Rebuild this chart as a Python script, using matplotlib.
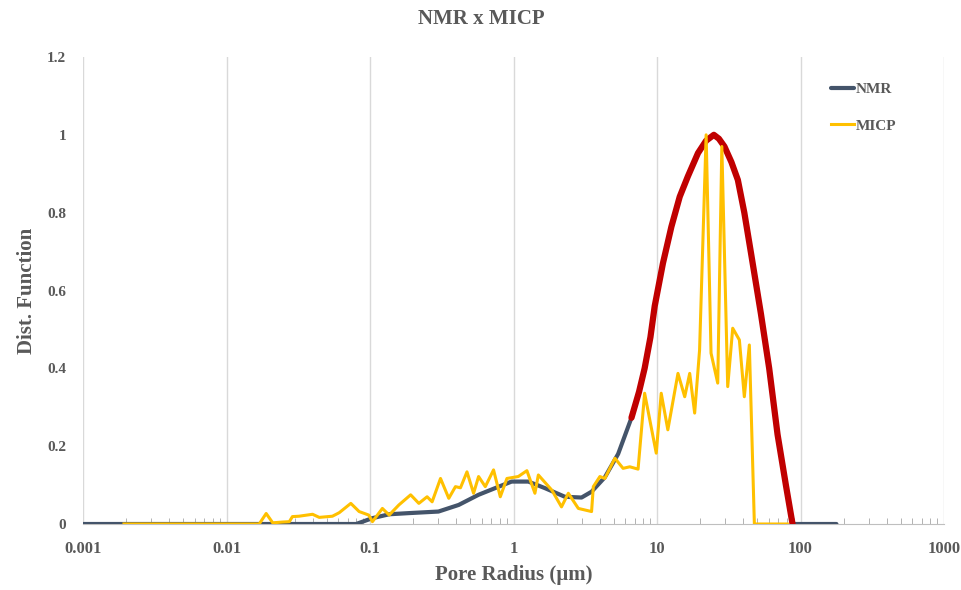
import matplotlib
matplotlib.use("Agg")
import matplotlib.pyplot as plt
from matplotlib.ticker import LogLocator, FixedLocator, NullFormatter

# NMR distribution (pore radius in um, normalised amplitude)
nmr_r = [0.001, 0.032, 0.080, 0.104, 0.136, 0.187, 0.30, 0.415, 0.57, 0.79,
         0.97, 1.27, 1.66, 2.28, 2.98, 3.5, 4.33, 5.36, 6.64, 7.5, 8.2, 9.0,
         9.64, 11.0, 12.6, 14.4, 16.4, 19.3, 22.0, 24.9, 27.0, 29.5, 33.0,
         36.6, 40.6, 45.2, 53.0, 60.5, 69.2, 79.1, 88.0, 178.0]
nmr_f = [0.0, 0.0, 0.0, 0.015, 0.025, 0.028, 0.032, 0.049, 0.075, 0.096,
         0.109, 0.109, 0.092, 0.070, 0.068, 0.083, 0.12, 0.18, 0.273, 0.34,
         0.40, 0.48, 0.56, 0.67, 0.764, 0.841, 0.893, 0.953, 0.985, 1.0,
         0.99, 0.97, 0.93, 0.884, 0.80, 0.696, 0.54, 0.40, 0.23, 0.10, 0.0,
         0.0]

# MICP distribution
micp_r = [0.00193, 0.0169, 0.0189, 0.021, 0.0245, 0.0274, 0.0288, 0.032,
          0.0398, 0.0443, 0.0547, 0.061, 0.0735, 0.084, 0.098, 0.104, 0.122,
          0.136, 0.159, 0.192, 0.219, 0.25, 0.271, 0.31, 0.354, 0.394, 0.427,
          0.474, 0.527, 0.571, 0.636, 0.726, 0.809, 0.9, 1.08, 1.24, 1.41,
          1.49, 1.85, 2.16, 2.41, 2.83, 3.5, 3.6, 4.0, 4.33, 5.09, 5.8, 6.46,
          7.38, 8.2, 9.88, 10.7, 11.9, 14.0, 15.6, 16.9, 18.3, 19.8, 22.0,
          23.8, 26.5, 28.3, 31.1, 33.7, 37.5, 40.6, 44.0, 47.7, 81.0]
micp_f = [0.0, 0.0, 0.027, 0.003, 0.005, 0.006, 0.019, 0.02, 0.025, 0.017,
          0.02, 0.029, 0.053, 0.032, 0.023, 0.006, 0.04, 0.023, 0.049, 0.075,
          0.053, 0.07, 0.057, 0.117, 0.066, 0.096, 0.093, 0.134, 0.079, 0.122,
          0.096, 0.139, 0.07, 0.117, 0.122, 0.137, 0.079, 0.126, 0.087, 0.044,
          0.079, 0.04, 0.032, 0.096, 0.122, 0.117, 0.169, 0.143, 0.147, 0.141,
          0.336, 0.182, 0.336, 0.242, 0.387, 0.327, 0.387, 0.285, 0.447, 1.0,
          0.439, 0.362, 0.97, 0.353, 0.503, 0.473, 0.327, 0.46, 0.0, 0.0]

# range of the NMR curve highlighted in red
red_lo, red_hi = 6.64, 88.0

text_c = "#595959"
plt.rcParams["font.family"] = ["Liberation Serif", "DejaVu Serif"]
plt.rcParams["font.weight"] = "bold"

fig = plt.figure(figsize=(9.62, 5.9), dpi=100)
ax = fig.add_axes([83 / 962, 66 / 590, 861 / 962, 467 / 590])

ax.plot(nmr_r, nmr_f, color="#44546A", lw=3.0, label="NMR",
        solid_capstyle="round", solid_joinstyle="round", zorder=3)
red_r = [r for r in nmr_r if red_lo <= r <= red_hi]
red_f = [f for r, f in zip(nmr_r, nmr_f) if red_lo <= r <= red_hi]
ax.plot(red_r, red_f, color="#C00000", lw=4.5, solid_capstyle="round",
        solid_joinstyle="round", zorder=4)
ax.plot(micp_r, micp_f, color="#FFC000", lw=2.2, label="MICP", zorder=5)

ax.set_xscale("log")
ax.set_xlim(0.001, 1000)
ax.set_ylim(0, 1.2)

ax.xaxis.set_major_locator(FixedLocator([0.001, 0.01, 0.1, 1, 10, 100, 1000]))
ax.set_xticklabels(["0.001", "0.01", "0.1", "1", "10", "100", "1000"])
ax.xaxis.set_minor_locator(LogLocator(base=10, subs=range(2, 10)))
ax.xaxis.set_minor_formatter(NullFormatter())
ax.set_yticks([0, 0.2, 0.4, 0.6, 0.8, 1.0, 1.2])
ax.set_yticklabels(["0", "0.2", "0.4", "0.6", "0.8", "1", "1.2"])

ax.grid(True, axis="x", which="major", color="#D9D9D9", lw=1)
ax.set_axisbelow(True)
for s in ["top", "right", "left"]:
    ax.spines[s].set_visible(False)
ax.spines["bottom"].set_color("#BFBFBF")
ax.tick_params(axis="x", which="major", length=0, pad=12, labelsize=12,
               labelcolor=text_c)
ax.tick_params(axis="x", which="minor", direction="in", length=4,
               color="#A6A6A6")
ax.tick_params(axis="y", length=0, pad=12, labelsize=11, labelcolor=text_c)

ax.set_xlabel("Pore Radius (µm)", fontsize=15, fontweight="bold",
              color=text_c, labelpad=6)
ax.set_ylabel("Dist. Function", fontsize=15, fontweight="bold",
              color=text_c, labelpad=7)
fig.suptitle("NMR x MICP", fontsize=15, fontweight="bold", color=text_c,
             y=0.985)

leg = ax.legend(loc="upper left", bbox_to_anchor=(0.853, 0.975),
                frameon=False, handlelength=1.5, handletextpad=0.1,
                labelspacing=1.5, fontsize=11)
for t in leg.get_texts():
    t.set_color(text_c)
    t.set_fontweight("bold")

fig.savefig("out.png", dpi=100)
